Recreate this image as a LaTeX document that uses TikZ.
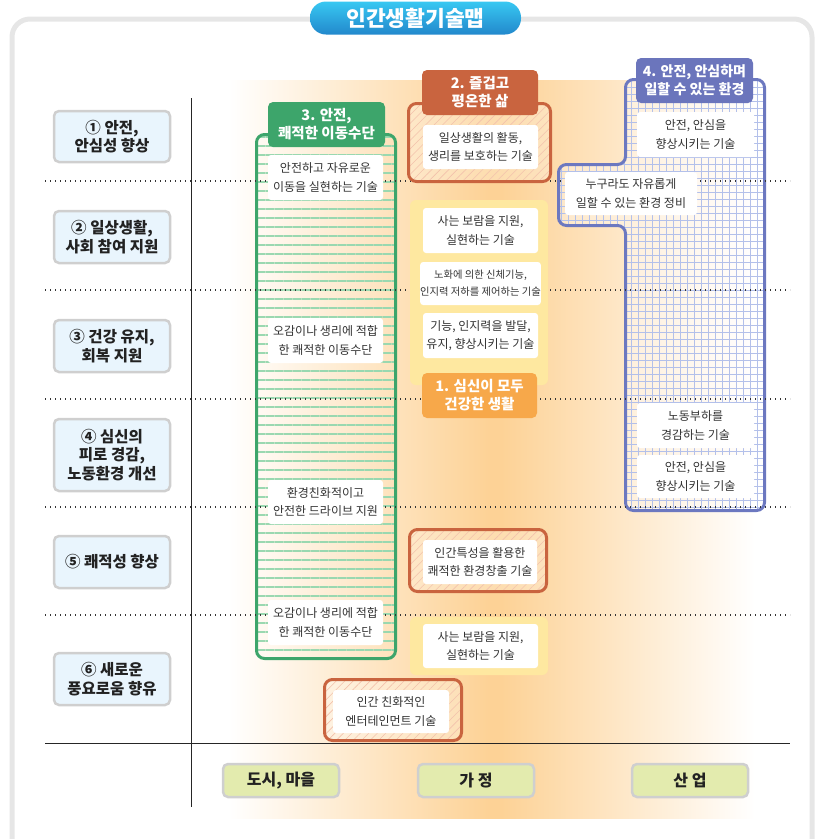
\documentclass[tikz,border=0pt]{standalone}
\usepackage{fontspec}
\setmainfont{Noto Sans CJK KR}
\usetikzlibrary{patterns.meta}
\definecolor{framec}{HTML}{E6E6E6}
\definecolor{orpeak}{HTML}{FDD296}
\definecolor{titletop}{HTML}{38C8F2}
\definecolor{titlebot}{HTML}{2288CC}
\definecolor{catfill}{HTML}{E9F5FD}
\definecolor{catdraw}{HTML}{CFCFCF}
\definecolor{botfill}{HTML}{E3EBAE}
\definecolor{txtd}{HTML}{222222}
\definecolor{txtc}{HTML}{333333}
\definecolor{greenc}{HTML}{3DA56B}
\definecolor{greenstripe}{HTML}{9AD8B0}
\definecolor{redc}{HTML}{C9643F}
\definecolor{hatchc}{HTML}{F3C2AC}
\definecolor{yelc}{HTML}{FEE8A0}
\definecolor{orhead}{HTML}{F7A84A}
\definecolor{bluec}{HTML}{6C78C0}
\definecolor{bluehead}{HTML}{6B75BC}
\definecolor{gridc}{HTML}{B3C0EA}
\pgfdeclarehorizontalshading{bandshade}{100bp}{color(0bp)=(white); color(25bp)=(white); color(49.7bp)=(orpeak); color(50.9bp)=(orpeak); color(75bp)=(white); color(100bp)=(white)}
\begin{document}
\begin{tikzpicture}[x=1pt,y=-1pt,
  wbox/.style={fill=white, rounded corners=3pt, align=center, text=txtc, inner sep=0pt,
    minimum width=115pt, minimum height=45pt, font=\fontsize{12}{18.5}\selectfont},
  catbox/.style={fill=catfill, draw=catdraw, line width=2.5pt, rounded corners=5pt,
    minimum width=116pt, align=center, text=txtd, inner sep=0pt,
    font=\bfseries\fontsize{15.5}{18.5}\selectfont},
  botbox/.style={fill=botfill, draw=catdraw, line width=2.5pt, rounded corners=5pt,
    minimum width=116pt, minimum height=33pt, text=txtd, inner sep=0pt,
    font=\bfseries\fontsize{16}{18}\selectfont},
  hdr/.style={rounded corners=5pt, text=white, align=center, inner sep=0pt,
    minimum height=45pt, font=\bfseries\fontsize{14.5}{18}\selectfont},
  redbox/.style={draw=redc, line width=3pt, rounded corners=8pt, inner sep=0pt,
    preaction={fill=white, fill opacity=0.25},
    pattern={Lines[angle=45,distance=6pt,line width=0.6pt]}, pattern color=hatchc},
  yelbox/.style={fill=yelc, rounded corners=6pt, inner sep=0pt},
  dotline/.style={line width=1.3pt, dash pattern=on 1.3pt off 3.7pt, draw=black!80},
  axis/.style={line width=1pt, draw=black!85}]
\useasboundingbox (0,0) rectangle (820,839);
\clip (0,0) rectangle (820,839);
% frame
\draw[framec, line width=5pt, rounded corners=18pt] (12,19) rectangle (812,880);
% orange band
\shade[shading=bandshade] (228,80) rectangle (755,818);
% title
\node[rounded corners=16pt, top color=titletop, bottom color=titlebot, minimum width=211pt,
  minimum height=33pt, text=white, font=\bfseries\fontsize{21.5}{22}\selectfont] (title) at (415.5,18) {인간생활기술맵};
% axes
\coordinate (vtop) at (191,98);
\coordinate (vbot) at (191,807);
\coordinate (hl) at (45,743);
\coordinate (hr) at (790,743);
\draw[axis] (vtop) -- (vbot);
\draw[axis] (hl) -- (hr);
% green box
\node[draw=greenc, line width=3pt, rounded corners=8pt, minimum width=139pt, minimum height=524pt,
  pattern={Lines[angle=0,distance=9pt,line width=1.3pt]}, pattern color=greenstripe] (gbox) at (326,396.5) {};
% blue box
\draw[bluec, line width=3pt, rounded corners=8pt,
  preaction={fill=white, fill opacity=0.35},
  preaction={pattern={Hatch[distance=7.4pt,line width=0.9pt]}, pattern color=gridc}]
  (625.5,79.5) -- (764.5,79.5) -- (764.5,510.5) -- (625.5,510.5) -- (625.5,225.5)
  -- (558.5,225.5) -- (558.5,164.5) -- (625.5,164.5) -- cycle;
% dotted lines
\foreach \yy/\nm in {181/a,290/b,399/c,507/d,615/e}{
  \coordinate (dl\nm) at (45,\yy);
  \coordinate (dr\nm) at (790,\yy);
  \draw[dotline] (dl\nm) -- (dr\nm);
}
% red hatched boxes and yellow panels
\node[redbox, minimum width=142pt, minimum height=78pt] (r2) at (479.5,142.5) {};
\node[yelbox, minimum width=138pt, minimum height=185pt] (y1) at (479,292.5) {};
\node[redbox, minimum width=137pt, minimum height=62pt] (r5) at (478,560.5) {};
\node[yelbox, minimum width=138pt, minimum height=58pt] (y6) at (479,646) {};
\node[redbox, minimum width=137pt, minimum height=61pt] (r6) at (393,710) {};
% headers
\node[hdr, fill=greenc, minimum width=117pt] (h3) at (326.5,124.5) {3. 안전,\\쾌적한 이동수단};
\node[hdr, fill=redc, minimum width=116pt] (h2) at (480,92.5) {2. 즐겁고\\평온한 삶};
\node[hdr, fill=orhead, minimum width=115pt] (h1) at (479.5,395.5) {1. 심신이 모두\\건강한 생활};
\node[hdr, fill=bluehead, minimum width=117pt, font=\bfseries\fontsize{14}{18}\selectfont] (h4) at (694.5,80.5) {4. 안전, 안심하며\\일할 수 있는 환경};
% white boxes - green column
\node[wbox] (g1) at (325.5,177.5) {안전하고 자유로운\\이동을 실현하는 기술};
\node[wbox] (g2) at (325.5,340.5) {오감이나 생리에 적합\\한 쾌적한 이동수단};
\node[wbox, minimum height=44pt] (g3) at (325.5,502) {환경친화적이고\\안전한 드라이브 지원};
\node[wbox] (g4) at (325.5,622.5) {오감이나 생리에 적합\\한 쾌적한 이동수단};
% white boxes - middle column
\node[wbox, minimum height=44pt] (m1) at (480.5,147) {일상생활의 활동,\\생리를 보호하는 기술};
\node[wbox] (m2) at (480.5,230.5) {사는 보람을 지원,\\실현하는 기술};
\node[wbox, minimum height=43pt, font=\fontsize{10.3}{17}\selectfont] (m3) at (480.5,283.5) {노화에 의한 신체기능,\\인지력 저하를 제어하는 기술};
\node[wbox] (m4) at (480.5,335.5) {기능, 인지력을 발달,\\유지, 향상시키는 기술};
\node[wbox, minimum width=114pt, minimum height=44pt] (m5) at (480,562) {인간특성을 활용한\\쾌적한 환경창출 기술};
\node[wbox, minimum height=44pt] (m6) at (480.5,646) {사는 보람을 지원,\\실현하는 기술};
\node[wbox, minimum width=116pt, minimum height=43pt] (m7) at (391,711.5) {인간 친화적인\\엔터테인먼트 기술};
% white boxes - blue column
\node[wbox, minimum width=117pt] (b1) at (695.5,134.5) {안전, 안심을\\향상시키는 기술};
\node[wbox, minimum width=132pt, minimum height=43pt] (b2) at (631,193.5) {누구라도 자유롭게\\일할 수 있는 환경 정비};
\node[wbox, minimum width=117pt] (b3) at (695.5,425.5) {노동부하를\\경감하는 기술};
\node[wbox, minimum width=117pt, minimum height=43pt] (b4) at (695.5,476.5) {안전, 안심을\\향상시키는 기술};
% category boxes
\node[catbox, minimum height=51pt] (c1) at (112,136.5) {① 안전,\\안심성 향상};
\node[catbox, minimum height=52pt] (c2) at (112,237) {② 일상생활,\\사회 참여 지원};
\node[catbox, minimum height=52pt] (c3) at (112,346) {③ 건강 유지,\\회복 지원};
\node[catbox, minimum height=72pt] (c4) at (112,455) {④ 심신의\\피로 경감,\\노동환경 개선};
\node[catbox, minimum height=52pt] (c5) at (112,562) {⑤ 쾌적성 향상};
\node[catbox, minimum height=52pt] (c6) at (112,679) {⑥ 새로운\\풍요로움 향유};
% bottom boxes
\node[botbox] (p1) at (281,780.5) {도시, 마을};
\node[botbox] (p2) at (476,780.5) {가 정};
\node[botbox] (p3) at (690,780.5) {산 업};
\end{tikzpicture}
\end{document}
